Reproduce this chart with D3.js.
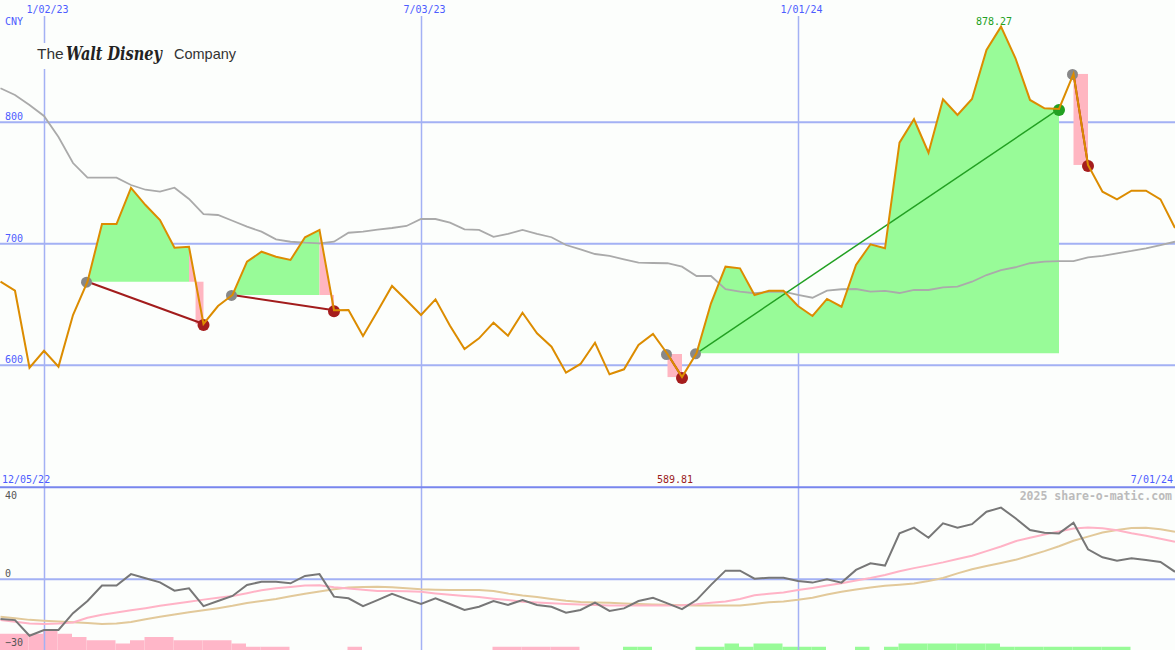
<!DOCTYPE html>
<html lang="en">
<head>
  <meta charset="UTF-8">
  <title>The Walt Disney Company - weekly</title>
  <style>
    body { margin: 0; background: #fcfefc; }
    svg { display: block; }
    .lbl { font-family: "DejaVu Sans Mono", monospace; font-size: 10px; }
  </style>
</head>
<body>
  <svg width="1175" height="650"></svg>
  <script src="https://d3js.org/d3.v7.min.js"></script>
  <script>
    // weekly closes (CNY), first week 12/12/22, last week 7/01/24
    var close = [
      668.3, 660.9, 597.5, 611.5, 598.4, 640.9, 668.3, 715.8, 715.8, 745.5,
      731.4, 719.0, 696.3, 697.1, 633.5, 648.3, 657.4, 684.8, 693.0, 688.9,
      686.2, 704.9, 710.9, 644.8, 645.0, 623.6, 644.0, 664.8, 653.0, 640.9,
      653.8, 632.0, 612.9, 621.7, 634.6, 623.9, 642.8, 625.8, 614.8, 593.4,
      600.6, 618.1, 592.1, 596.2, 616.2, 625.3, 608.8, 589.81, 609.4, 650.5,
      680.7, 679.3, 657.4, 660.9, 660.9, 648.3, 640.1, 654.1, 647.7, 682.1,
      699.1, 695.8, 782.7, 802.0, 774.5, 818.4, 805.5, 818.7, 859.0, 878.27,
      852.2, 817.9, 811.0, 810.5, 839.3, 764.4, 742.4, 736.1, 743.2, 743.2,
      736.1, 712.5
    ];
    // moving average (grey line)
    var avg = [
      827.5, 822.0, 813.7, 804.7, 787.4, 766.0, 753.9, 753.9, 753.9, 747.9,
      744.0, 742.4, 745.7, 736.4, 724.0, 723.2, 718.5, 713.6, 709.5, 703.2,
      701.2, 700.4, 699.9, 701.2, 708.6, 709.5, 711.1, 712.5, 714.2, 719.9,
      719.9, 716.9, 711.4, 710.9, 705.3, 707.6, 710.9, 707.6, 704.9, 698.5,
      695.0, 691.1, 689.5, 686.7, 684.0, 683.7, 683.5, 680.7, 673.0, 673.0,
      662.1, 660.1, 658.8, 659.9, 660.1, 657.4, 655.1, 660.9, 662.1, 662.3,
      660.1, 660.7, 659.0, 661.5, 661.5, 663.7, 664.2, 668.3, 673.8, 677.9,
      680.2, 683.5, 684.8, 685.3, 685.3, 688.4, 689.5, 691.7, 693.6, 695.8,
      698.5, 701.2
    ];
    // lower panel oscillator and its two signal lines
    var osc = [
      -17.5, -18.0, -24.8, -22.3, -22.3, -15.0, -9.7, -3.0, -3.0, 2.0,
      0.2, -1.6, -5.2, -4.2, -11.9, -9.7, -7.5, -2.7, -1.3, -1.3,
      -2.0, 1.2, 2.0, -7.8, -8.5, -11.9, -9.3, -6.6, -8.9, -11.0,
      -8.5, -11.0, -13.6, -12.2, -9.7, -11.4, -9.3, -11.4, -12.2, -14.8,
      -13.6, -10.4, -14.0, -12.9, -9.7, -8.3, -10.7, -13.2, -9.3, -2.7,
      3.5, 3.5, 0.0, 0.4, 0.4, -1.0, -1.7, -0.3, -1.7, 3.8,
      6.7, 5.7, 19.7, 22.2, 17.8, 24.1, 22.2, 23.7, 29.1, 30.9,
      26.3, 21.2, 20.0, 19.7, 24.3, 12.8, 9.3, 7.8, 8.9, 8.1,
      7.3, 3.0
    ];
    var sigPink = [
      -18.0, -18.7, -19.5, -19.7, -19.5, -19.0, -17.0, -15.7, -14.7, -13.7,
      -12.8, -11.8, -10.9, -10.0, -9.1, -8.3, -7.5, -6.3, -5.0, -4.2,
      -3.6, -3.0, -2.8, -3.7, -4.3, -4.8, -5.3, -5.3, -5.5, -5.7,
      -6.4, -7.0, -7.5, -8.0, -8.7, -9.3, -10.0, -10.4, -10.7, -11.0,
      -11.2, -11.4, -11.6, -11.7, -11.7, -11.7, -11.6, -11.5, -11.1, -10.5,
      -9.9, -8.8, -7.2, -6.5, -6.0, -4.9, -4.0, -3.0, -2.0, -0.8,
      0.3, 1.6, 3.2, 4.6, 5.8, 7.1, 8.6, 10.0, 12.0, 14.0,
      16.3, 17.8, 19.2, 20.5, 21.8, 22.3, 21.9, 21.1, 19.8, 18.7,
      17.4, 16.1
    ];
    var sigTan = [
      -16.5, -17.2, -17.9, -18.3, -18.6, -18.9, -19.3, -19.7, -19.5, -18.8,
      -17.6, -16.5, -15.6, -14.6, -13.7, -12.8, -11.8, -10.6, -9.7, -8.8,
      -7.6, -6.5, -5.6, -4.6, -3.8, -3.6, -3.5, -3.7, -4.2, -4.6,
      -4.8, -4.9, -4.9, -4.9, -5.3, -6.4, -7.3, -8.0, -8.8, -9.6,
      -10.1, -10.3, -10.5, -10.8, -11.0, -11.2, -11.3, -11.5, -11.6, -11.7,
      -11.7, -11.7, -11.0, -10.2, -9.9, -9.2, -8.3, -6.9, -5.7, -4.7,
      -3.8, -3.1, -2.6, -2.1, -1.0, 0.3, 2.3, 4.1, 5.5, 6.8,
      8.2, 10.1, 12.0, 14.1, 16.5, 18.3, 20.1, 21.2, 22.0, 22.2,
      21.5, 20.4
    ];
    // histogram at the bottom (negative = pink, positive = green)
    var bars = [
      -5, -5, -5, -6, -5, -4, -3, -3, -2, -3,
      -4, -4, -3, -3, -3, -3, -2, -1, -1, -1,
      0, 0, 0, 0, -1, 0, 0, 0, 0, 0,
      0, 0, 0, 0, -1, -1, -1, -1, -1, -1,
      0, 0, 0, 1, 1, 0, 0, 0, 1, 1,
      2, 1, 2, 2, 1, 1, 1, 0, 0, 1,
      0, 1, 2, 2, 2, 2, 2, 2, 2, 1,
      1, 1, 1, 1, 1, 1, 1, 1, 0, 0,
      0, 0
    ];
    // trades: entry week index, exit week index, win?
    var tradeStart = [6, 16, 46, 48, 74];
    var tradeEnd   = [14, 23, 47, 73, 75];
    var tradeWin   = [false, false, false, true, false];

    var priceTicks = [600, 700, 800];
    var oscTicks = [-30, 0, 40];
    var dateTicks = ["1/02/23", "7/03/23", "1/01/24"];
    var periodLabels = ["12/05/22", "7/01/24"];

    var W = 1175, H = 650;
    var svg = d3.select("svg");
    var parseD = d3.utcParse("%m/%d/%y"),
        fmtD = d3.utcFormat("%-m/%d/%y");

    var dates = d3.utcMonday.range(new Date(Date.UTC(2022, 11, 12)), new Date(Date.UTC(2024, 6, 2)));

    var x = d3.scaleUtc().domain([parseD("1/02/23"), parseD("7/01/24")]).range([44, 1175]),
        y = d3.scaleLinear().domain([600, 800]).range([364.7, 121.7]),
        yLow = d3.scaleLinear().domain([-30, 40]).range([647.7, 486.7]),
        yBar = d3.scaleLinear().domain([0, 6]).range([650, 630.5]);

    var pts = dates.map(function(d, i) {
      return {date: d, v: close[i], ma: avg[i], osc: osc[i], p: sigPink[i], t: sigTan[i], bar: bars[i]};
    });

    svg.append("rect").attr("width", W).attr("height", H).attr("fill", "#fcfefc");

    // lower panel: histogram (under the labels)
    svg.append("g").selectAll("rect").data(pts.filter(function(d) { return d.bar !== 0; }))
      .enter().append("rect")
      .attr("x", function(d) { return x(d.date) - 1; })
      .attr("width", 14.5)
      .attr("y", function(d) { return yBar(Math.abs(d.bar)); })
      .attr("height", function(d) { return yBar(0) - yBar(Math.abs(d.bar)); })
      .attr("fill", function(d) { return d.bar < 0 ? "#ffb6c8" : "#98fb98"; });

    // vertical date grid
    var gx = svg.append("g")
      .attr("transform", "translate(0,16)")
      .call(d3.axisBottom(x).tickValues(dateTicks.map(parseD)).tickSize(H - 16).tickFormat(fmtD));
    gx.select(".domain").remove();
    gx.selectAll("line").attr("stroke", "#a3b1f4").attr("stroke-width", 1.5);
    gx.selectAll("text")
      .attr("class", "lbl").attr("font-family", null).attr("font-size", null)
      .attr("y", -3).attr("dy", 0).attr("x", 3).attr("fill", "#4d5cff");

    // price grid
    var gy = svg.append("g")
      .call(d3.axisRight(y).tickValues(priceTicks).tickSize(W).tickFormat(d3.format("d")));
    gy.select(".domain").remove();
    gy.selectAll("line").attr("stroke", "#a3b1f4").attr("stroke-width", 2);
    gy.selectAll("text")
      .attr("class", "lbl").attr("font-family", null).attr("font-size", null)
      .attr("x", 5).attr("dy", 0).attr("y", -2).attr("text-anchor", "start").attr("fill", "#4d5cff");

    // lower panel grid
    var gl = svg.append("g")
      .call(d3.axisRight(yLow).tickValues(oscTicks).tickSize(W).tickFormat(d3.format("d")));
    gl.select(".domain").remove();
    gl.selectAll("line")
      .attr("stroke", function(d) { return d === 40 ? "#7886ee" : d === 0 ? "#a3b1f4" : "none"; })
      .attr("stroke-width", 2);
    gl.selectAll("text")
      .attr("class", "lbl").attr("font-family", null).attr("font-size", null)
      .attr("x", 5).attr("dy", 0)
      .attr("y", function(d) { return d === 40 ? 12 : -2; })
      .attr("text-anchor", "start").attr("fill", "#555");

    // logo
    var logo = svg.append("g");
    logo.append("rect").attr("x", 30).attr("y", 43).attr("width", 210).attr("height", 26).attr("fill", "#fcfefc");
    logo.append("text").attr("x", 37).attr("y", 59)
      .attr("font-family", "Liberation Sans, Arial, sans-serif").attr("font-size", 15.5).attr("fill", "#333")
      .text("The");
    var script = logo.append("text")
      .attr("font-family", "DejaVu Serif, serif").attr("font-style", "italic").attr("font-weight", "bold")
      .attr("font-size", 19).attr("fill", "#222").text("Walt Disney");
    var sx = 96 / script.node().getComputedTextLength();
    script.attr("transform", "translate(66,60) scale(" + sx + ",1)");
    logo.append("text").attr("x", 174).attr("y", 59)
      .attr("font-family", "Liberation Sans, Arial, sans-serif").attr("font-size", 14.5).attr("fill", "#333")
      .text("Company");

    var line = d3.line().x(function(d) { return x(d.date); }).y(function(d) { return y(d.v); });

    // trade fills
    var fills = svg.append("g");
    tradeStart.forEach(function(s, k) {
      var e = tradeEnd[k], base = y(close[s]);
      var last = tradeWin[k] ? e : e - 1;
      if (last > s) {
        fills.append("path")
          .attr("d", d3.area().x(function(d) { return x(d.date); }).y0(base).y1(function(d) { return y(d.v); })(pts.slice(s, last + 1)))
          .attr("fill", "#98fb98");
      }
      if (!tradeWin[k]) {
        var p = e - 1,
            xp = x(dates[p]), yp = y(close[p]),
            xe = x(dates[e]), ye = y(close[e]),
            xc = xp;
        if (yp < base) {
          xc = xp + (base - yp) / (ye - yp) * (xe - xp);
          fills.append("path")
            .attr("d", "M" + xp + "," + yp + "L" + xc + "," + base + "L" + xp + "," + base + "Z")
            .attr("fill", "#ffb6c1");
        }
        fills.append("rect")
          .attr("x", xc).attr("y", base).attr("width", xe - xc).attr("height", ye - base)
          .attr("fill", "#ffb6c1");
      }
    });

    // moving average
    svg.append("path").datum(pts)
      .attr("d", d3.line().x(function(d) { return x(d.date); }).y(function(d) { return y(d.ma); }))
      .attr("fill", "none").attr("stroke", "#aaaaaa").attr("stroke-width", 1.8);

    // trade lines and dots
    var tr = svg.append("g");
    tradeStart.forEach(function(s, k) {
      var e = tradeEnd[k];
      tr.append("line")
        .attr("x1", x(dates[s])).attr("y1", y(close[s]))
        .attr("x2", x(dates[e])).attr("y2", y(close[e]))
        .attr("stroke", tradeWin[k] ? "#22a022" : "#a21c1c")
        .attr("stroke-width", tradeWin[k] ? 1.5 : 2);
    });
    tradeStart.forEach(function(s, k) {
      var e = tradeEnd[k];
      tr.append("circle").attr("cx", x(dates[s]) - 1).attr("cy", y(close[s]) + 0.5).attr("r", 5.5).attr("fill", "#888");
      tr.append("circle").attr("cx", x(dates[e])).attr("cy", y(close[e]) + 1).attr("r", 6)
        .attr("fill", tradeWin[k] ? "#22a022" : "#a51d1d");
    });

    // price line
    svg.append("path").datum(pts)
      .attr("d", line)
      .attr("fill", "none").attr("stroke", "#dc8c00").attr("stroke-width", 2);

    // high / low labels
    var hiI = d3.maxIndex(close), loI = d3.minIndex(close);
    svg.append("text").attr("class", "lbl")
      .attr("x", x(dates[hiI]) - 7).attr("y", y(close[hiI]) - 2).attr("text-anchor", "middle")
      .attr("fill", "#22a022").text(close[hiI].toFixed(2));
    svg.append("text").attr("class", "lbl")
      .attr("x", x(dates[loI]) - 7).attr("y", 483).attr("text-anchor", "middle")
      .attr("fill", "#9b1c1c").text(close[loI].toFixed(2));

    svg.append("text").attr("class", "lbl").attr("x", 5).attr("y", 25).attr("fill", "#4d5cff").text("CNY");
    svg.append("text").attr("class", "lbl").attr("x", 2).attr("y", 483).attr("fill", "#4d5cff").text(periodLabels[0]);
    svg.append("text").attr("class", "lbl").attr("x", 1173).attr("y", 483).attr("text-anchor", "end")
      .attr("fill", "#4d5cff").text(periodLabels[1]);
    svg.append("text").attr("x", 1172).attr("y", 500).attr("text-anchor", "end")
      .attr("font-family", "DejaVu Sans Mono, monospace").attr("font-size", 11.5).attr("font-weight", "bold")
      .attr("fill", "#bbbbbb").text("2025 share-o-matic.com");

    // lower panel lines
    [["t", "#e2c99a"], ["p", "#ffb3c6"], ["osc", "#777777"]].forEach(function(c) {
      svg.append("path").datum(pts)
        .attr("d", d3.line().x(function(d) { return x(d.date); }).y(function(d) { return yLow(d[c[0]]); }))
        .attr("fill", "none").attr("stroke", c[1]).attr("stroke-width", 2);
    });
  </script>
</body>
</html>
